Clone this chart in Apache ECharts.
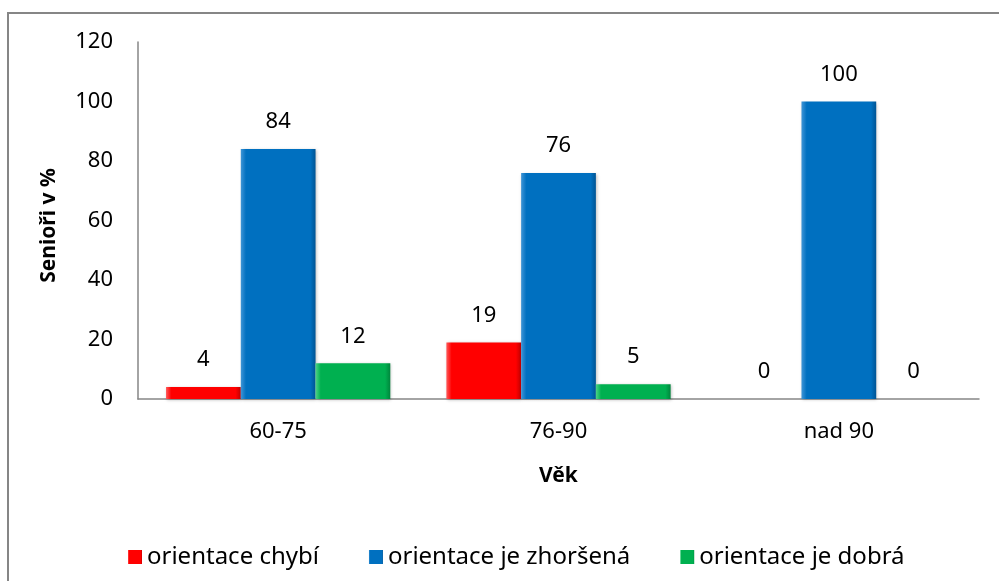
<!DOCTYPE html>
<html>
<head>
<meta charset="utf-8">
<script src="https://cdn.jsdelivr.net/npm/echarts@6/dist/echarts.min.js"></script>
<style>
  html, body { margin: 0; padding: 0; background: #fff; }
  #chart { width: 999px; height: 581px; }
</style>
</head>
<body>
<div id="chart"></div>
<script>
// data
const categories = ['60-75', '76-90', 'nad 90'];
const seriesNames = ['orientace chybí', 'orientace je zhoršená', 'orientace je dobrá'];
const chybi = [4, 19, 0];
const zhorsena = [84, 76, 100];
const dobra = [12, 5, 0];
const yTicks = [0, 20, 40, 60, 80, 100, 120];

const FONT = 'Noto Sans';

// bevel-ish look, lighter left edge, darker right edge
function barFill(light, base, dark) {
    return new echarts.graphic.LinearGradient(0, 0, 1, 0, [
        { offset: 0, color: light },
        { offset: 0.07, color: base },
        { offset: 0.93, color: base },
        { offset: 1, color: dark }
    ]);
}

const colors = [
    { light: '#ff5a5a', base: '#ff0000', dark: '#c00000' },
    { light: '#3f95d6', base: '#0070c0', dark: '#005494' },
    { light: '#4fd487', base: '#00b050', dark: '#00863c' }
];

function makeSeries(name, data, c) {
    return {
        name,
        type: 'bar',
        data,
        barGap: 0,
        barCategoryGap: '20%',
        itemStyle: {
            color: barFill(c.light, c.base, c.dark),
            borderWidth: 0,
            shadowColor: 'rgba(0,0,0,0.25)',
            shadowBlur: 3,
            shadowOffsetX: 1,
            shadowOffsetY: 1
        },
        label: {
            show: true,
            position: 'top',
            distance: 16,
            color: '#000',
            fontFamily: FONT,
            fontSize: 22
        }
    };
}

const chart = echarts.init(document.getElementById('chart'), null, { renderer: 'canvas' });

chart.setOption({
    backgroundColor: '#fff',
    animation: false,
    graphic: [{
        type: 'rect',
        shape: { x: 8, y: 13, width: 1000, height: 600 },
        style: { fill: 'none', stroke: '#868686', lineWidth: 2 },
        silent: true
    }],
    grid: { left: 138, top: 42, right: 20, bottom: 182 },
    legend: {
        left: 123,
        top: 540,
        itemWidth: 14,
        itemHeight: 14,
        itemGap: 50,
        icon: 'rect',
        textStyle: { fontFamily: FONT, fontSize: 24, color: '#000' },
        data: seriesNames
    },
    xAxis: {
        type: 'category',
        data: categories,
        name: 'Věk',
        nameLocation: 'middle',
        nameGap: 67,
        nameTextStyle: { fontFamily: FONT, fontSize: 21, fontWeight: 'bold', color: '#000' },
        axisLine: { lineStyle: { color: '#868686', width: 1.5 } },
        axisTick: { show: false },
        axisLabel: { margin: 22, fontFamily: FONT, fontSize: 22, color: '#000' }
    },
    yAxis: {
        type: 'value',
        min: yTicks[0],
        max: yTicks[yTicks.length - 1],
        interval: yTicks[1] - yTicks[0],
        name: 'Senioři v %',
        nameLocation: 'middle',
        nameGap: 78,
        nameTextStyle: { fontFamily: FONT, fontSize: 21, fontWeight: 'bold', color: '#000', padding: [0, 10, 0, 0] },
        axisLine: { show: true, lineStyle: { color: '#868686', width: 1.5 } },
        axisTick: { show: false },
        splitLine: { show: false },
        axisLabel: { margin: 25, fontFamily: FONT, fontSize: 22, color: '#000' }
    },
    series: [
        makeSeries(seriesNames[0], chybi, colors[0]),
        makeSeries(seriesNames[1], zhorsena, colors[1]),
        makeSeries(seriesNames[2], dobra, colors[2])
    ]
});
</script>
</body>
</html>
